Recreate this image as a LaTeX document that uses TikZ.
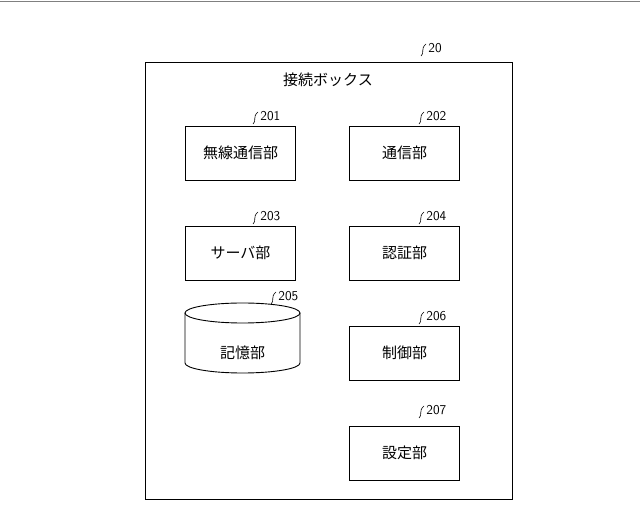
\documentclass[tikz,border=0pt]{standalone}
\usepackage{fontspec}
\newfontfamily\cjk{Noto Sans CJK JP}
\begin{document}
\begin{tikzpicture}[x=1pt,y=-1pt,line width=0.9pt,
  blk/.style={draw,minimum width=110pt,minimum height=54pt,font=\cjk\fontsize{15}{17}\selectfont},
  lbl/.style={font=\fontsize{13.5}{15}\selectfont\sffamily,anchor=west,inner sep=1pt},
  sq/.style={line width=0.6pt}]
\useasboundingbox (0,0) rectangle (640,526);
\draw[line width=0.4pt,gray] (0,1) -- (640,1);
\node[draw,minimum width=367pt,minimum height=437pt] (outer) at (328.5,280.5) {};
\node[font=\cjk\fontsize{15}{17}\selectfont] (title) at (328,80) {接続ボックス};
\node[blk] (b201) at (240.5,153) {無線通信部};
\node[blk] (b202) at (404.5,153) {通信部};
\node[blk] (b203) at (240.5,253) {サーバ部};
\node[blk] (b204) at (404.5,253) {認証部};
\node[blk] (b206) at (404.5,353) {制御部};
\node[blk] (b207) at (404.5,453) {設定部};
\draw (185,313) -- (185,363) arc[start angle=180,end angle=0,x radius=57.5,y radius=10] -- (300,313);
\draw (242.5,313) ellipse[x radius=57.5,y radius=10];
\node[font=\cjk\fontsize{15}{17}\selectfont] (b205) at (242.5,353) {記憶部};
\foreach \n/\x/\y in {20/424/48,201/256/116,202/422/116,203/256/216,204/422/216,205/274/296,206/422/316,207/422/410}{
  \node[lbl] (l\n) at (\x+3,\y) {\n};
  \draw[sq] (\x-3,\y+8) .. controls (\x+1,\y+5) and (\x-4,\y+1) .. (\x+2,\y-4);
}
\end{tikzpicture}
\end{document}
